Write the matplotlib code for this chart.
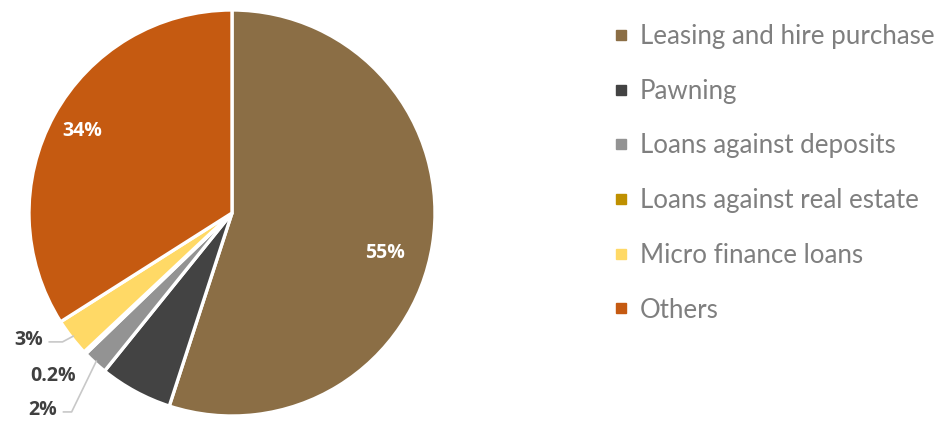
import numpy as np
import matplotlib.pyplot as plt
from matplotlib.lines import Line2D

plt.rcParams['font.family'] = ['Lato', 'DejaVu Sans']

categories = ["Leasing and hire purchase", "Pawning", "Loans against deposits",
              "Loans against real estate", "Micro finance loans", "Others"]
shares = [55, 5.8, 2, 0.2, 3, 34]
labels = ["55%", "", "2%", "0.2%", "3%", "34%"]
colors = ["#8B6E45", "#434343", "#939393", "#BF9000", "#FFD966", "#C55A11"]

fig = plt.figure(figsize=(9.37, 4.21), dpi=100)
ax = fig.add_axes([29 / 937, 5 / 421, 406 / 937, 406 / 421])

wedges, _ = ax.pie(shares, colors=colors, startangle=90, counterclock=False,
                   radius=1.0, wedgeprops=dict(edgecolor="white", linewidth=2.4))
ax.set_xlim(-1, 1)
ax.set_ylim(-1, 1)
ax.set_aspect("equal")

label_font = dict(family=["Open Sans", "DejaVu Sans"], fontsize=14, fontweight="bold")

# big slices: white labels inside (radius, angle offset from the slice middle)
for i, r, off in [(0, 0.78, -5.5), (5, 0.84, 0)]:
    w = wedges[i]
    mid = np.deg2rad((w.theta1 + w.theta2) / 2 + off)
    ax.text(r * np.cos(mid), r * np.sin(mid), labels[i], color="white",
            ha="center", va="center", **label_font)

# small slices: labels outside with leader lines
outside = {4: (-0.93, -0.625), 3: (-0.77, -0.805), 2: (-0.86, -0.97)}
for i, (tx, ty) in outside.items():
    ax.text(tx, ty, labels[i], color="#404040", ha="right", va="center", **label_font)

for i, (tx, ty), kx in [(4, outside[4], -0.835), (2, outside[2], -0.79)]:
    w = wedges[i]
    mid = np.deg2rad((w.theta1 + w.theta2) / 2)
    ex, ey = 0.99 * np.cos(mid), 0.99 * np.sin(mid)
    ax.plot([tx + 0.03, kx, ex], [ty - 0.01, ty - 0.01, ey],
            color="#C8C8C8", lw=1.2, clip_on=False)

handles = [Line2D([], [], marker="s", linestyle="none", markersize=7.5,
                  markerfacecolor=c, markeredgecolor=c) for c in colors]
fig.legend(handles, categories, loc="upper left", bbox_to_anchor=(614 / 937, 1 - 24 / 421),
           frameon=False, fontsize=18.6, labelcolor="#7F7F7F", handlelength=0.58,
           handletextpad=0.42, labelspacing=1.15, borderpad=0, borderaxespad=0)

fig.savefig("out.png", dpi=100)
